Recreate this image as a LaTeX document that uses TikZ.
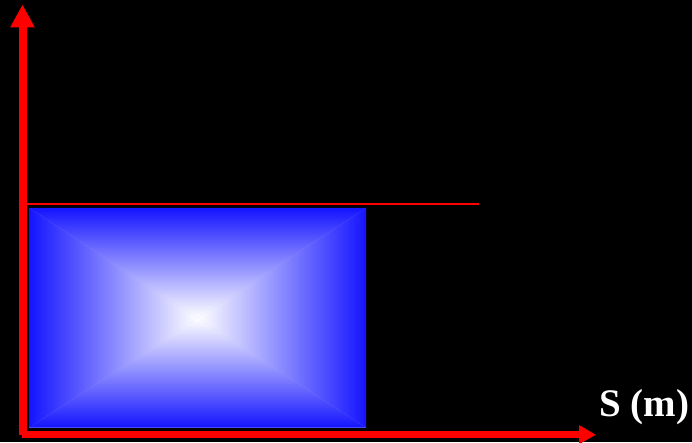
\documentclass[tikz,border=0pt]{standalone}
\usepackage{fontspec}
\setmainfont{Liberation Serif}
\definecolor{axisred}{RGB}{255, 0, 0}
\definecolor{boxblue}{RGB}{20, 20, 255}
\usetikzlibrary{arrows.meta, calc}

\begin{document}
\begin{tikzpicture}[x=1pt, y=1pt,
    axisline/.style={draw=axisred, line cap=butt},
    boxshade/.style={draw=none}]
  \fill[black] (0, 0) rectangle (692, 442);
  \useasboundingbox (0, 0) rectangle (692, 442);
  % corners of the box and its centre
  \coordinate (bl) at (29, 14.3);
  \coordinate (br) at (366, 14.3);
  \coordinate (tr) at (366, 234);
  \coordinate (tl) at (29, 234);
  \coordinate (mid) at ($(bl)!0.5!(tr)$);
  \fill[boxblue!35] (bl) rectangle (tr);
  \shade[boxshade, top color=boxblue, bottom color=white] (tl) -- (tr) -- (mid) -- cycle;
  \shade[boxshade, bottom color=boxblue, top color=white] (bl) -- (br) -- (mid) -- cycle;
  \shade[boxshade, left color=boxblue, right color=white] (tl) -- (bl) -- (mid) -- cycle;
  \shade[boxshade, right color=boxblue, left color=white] (tr) -- (br) -- (mid) -- cycle;
  % level line
  \coordinate (lvl0) at (22, 238);
  \coordinate (lvl1) at (479, 238);
  \draw[axisline, line width=2pt] (lvl0) -- (lvl1);
  % axes
  \coordinate (ybase) at (22.5, 7);
  \coordinate (ytip) at (22.5, 437.5);
  \coordinate (xbase) at (22, 7.3);
  \coordinate (xtip) at (596, 7.3);
  \draw[axisline, line width=8pt, -{Triangle[length=23pt, width=23pt]}, axisred] (ybase) -- (ytip);
  \draw[axisline, line width=6.5pt, -{Triangle[length=17pt, width=18pt]}, axisred] (xbase) -- (xtip);
  \node[anchor=base west, inner sep=0pt, text=white, font=\fontsize{39}{40}\selectfont\bfseries] (xlabel) at (599, 26) {S (m)};
\end{tikzpicture}
\end{document}
